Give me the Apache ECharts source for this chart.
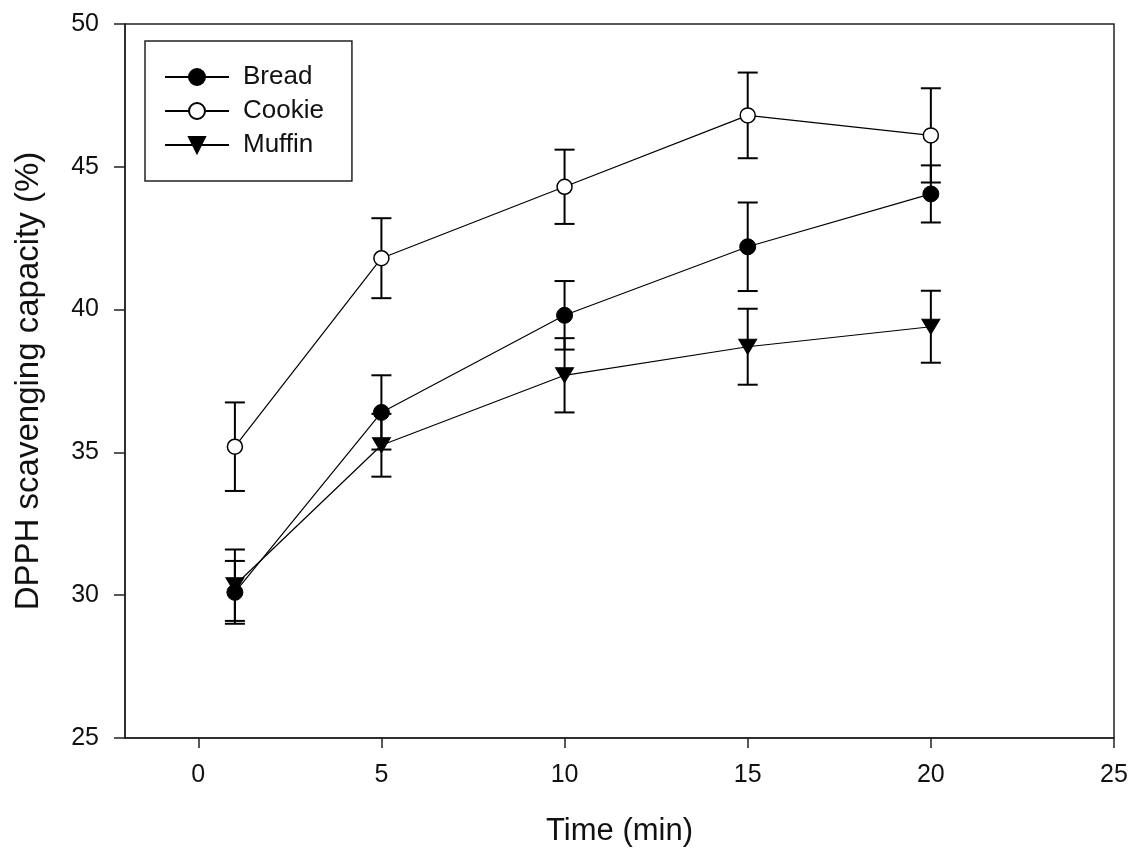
<!DOCTYPE html>
<html>
<head>
<meta charset="utf-8">
<script src="https://cdn.jsdelivr.net/npm/echarts@6/dist/echarts.min.js"></script>
<style>
html,body{margin:0;padding:0;background:#fff;}
#chart{width:1131px;height:852px;}
</style>
</head>
<body>
<div id="chart"></div>
<script>
const times = [1, 5, 10, 15, 20];
const bread = [30.1, 36.4, 39.8, 42.2, 44.05];
const breadErr = [1.1, 1.3, 1.2, 1.55, 1.0];
const cookie = [35.2, 41.8, 44.3, 46.8, 46.1];
const cookieErr = [1.55, 1.4, 1.3, 1.5, 1.65];
const muffin = [30.35, 35.25, 37.7, 38.7, 39.4];
const muffinErr = [1.25, 1.1, 1.3, 1.33, 1.26];
const xTicks = [0, 5, 10, 15, 20, 25];
const seriesNames = ['Bread', 'Cookie', 'Muffin'];

const FONT = '"Liberation Sans", Arial, sans-serif';

function pairs(vals) { return times.map((t, i) => [t, vals[i]]); }
function errData(vals, errs) { return times.map((t, i) => [t, vals[i] - errs[i], vals[i] + errs[i]]); }

function errSeries(vals, errs) {
  return {
    type: 'custom',
    silent: true,
    z: 1,
    data: errData(vals, errs),
    renderItem: function (params, api) {
      const x = api.value(0);
      const lo = api.coord([x, api.value(1)]);
      const hi = api.coord([x, api.value(2)]);
      const hw = 10;
      const st = { stroke: '#000', lineWidth: 2 };
      return {
        type: 'group',
        children: [
          { type: 'line', shape: { x1: lo[0], y1: lo[1], x2: hi[0], y2: hi[1] }, style: st },
          { type: 'line', shape: { x1: lo[0] - hw, y1: lo[1], x2: lo[0] + hw, y2: lo[1] }, style: st },
          { type: 'line', shape: { x1: hi[0] - hw, y1: hi[1], x2: hi[0] + hw, y2: hi[1] }, style: st }
        ]
      };
    }
  };
}

const chart = echarts.init(document.getElementById('chart'), null, { renderer: 'canvas' });
chart.setOption({
  animation: false,
  backgroundColor: '#fff',
  textStyle: { fontFamily: FONT },
  grid: { left: 125, right: 17, top: 24, bottom: 114, show: true, borderColor: '#222', borderWidth: 1.5, backgroundColor: 'transparent' },
  legend: {
    orient: 'vertical',
    left: 145, top: 41,
    padding: [23, 28, 23, 19],
    itemWidth: 64, itemHeight: 20, itemGap: 8,
    borderColor: '#222', borderWidth: 1.5,
    textStyle: { fontFamily: FONT, fontSize: 26, color: '#111', padding: [0, 0, 0, 9] },
    data: seriesNames
  },
  xAxis: {
    type: 'value', min: -2, max: 25,
    name: 'Time (min)', nameLocation: 'middle', nameGap: 78,
    nameTextStyle: { fontFamily: FONT, fontSize: 31, color: '#111' },
    axisLine: { show: true, onZero: false, lineStyle: { color: '#222', width: 1.5 } },
    axisTick: { show: true, inside: false, length: 10, lineStyle: { color: '#222', width: 1.5 }, customValues: xTicks },
    axisLabel: { fontFamily: FONT, fontSize: 25, color: '#111', margin: 25, customValues: xTicks },
    splitLine: { show: false }
  },
  yAxis: {
    type: 'value', min: 25, max: 50, interval: 5,
    name: 'DPPH scavenging capacity (%)', nameLocation: 'middle', nameGap: 80,
    nameTextStyle: { fontFamily: FONT, fontSize: 33, color: '#111' },
    axisLine: { show: true, onZero: false, lineStyle: { color: '#222', width: 1.5 } },
    axisTick: { show: true, inside: false, length: 11, lineStyle: { color: '#222', width: 1.5 } },
    axisLabel: { fontFamily: FONT, fontSize: 25, color: '#111', margin: 26 },
    splitLine: { show: false }
  },
  series: [
    errSeries(bread, breadErr),
    errSeries(cookie, cookieErr),
    errSeries(muffin, muffinErr),
    {
      name: 'Bread', type: 'line', z: 3, data: pairs(bread),
      symbol: 'circle', symbolSize: 16,
      lineStyle: { color: '#000', width: 1.2 },
      itemStyle: { color: '#000', borderColor: '#000', borderWidth: 1 }
    },
    {
      name: 'Cookie', type: 'line', z: 3, data: pairs(cookie),
      symbol: 'circle', symbolSize: 15,
      lineStyle: { color: '#000', width: 1.2 },
      itemStyle: { color: '#fff', borderColor: '#000', borderWidth: 1.5 }
    },
    {
      name: 'Muffin', type: 'line', z: 3, data: pairs(muffin),
      symbol: 'triangle', symbolSize: [18, 15], symbolRotate: 180,
      lineStyle: { color: '#000', width: 1.2 },
      itemStyle: { color: '#000', borderColor: '#000', borderWidth: 1 }
    }
  ]
});
</script>
</body>
</html>
